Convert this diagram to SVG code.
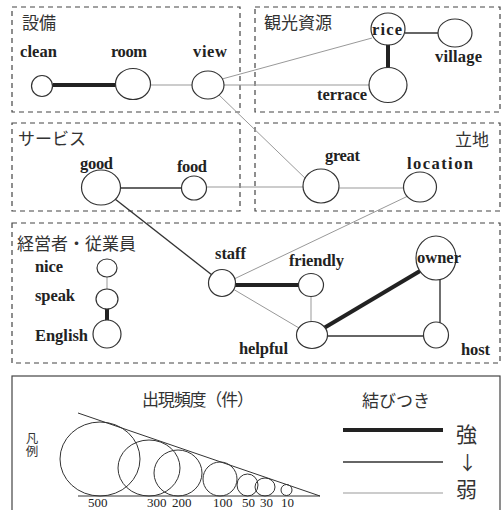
<svg xmlns="http://www.w3.org/2000/svg" width="501" height="510" viewBox="0 0 501 510">
  <style>
    .box { fill: none; stroke: #444; stroke-width: 1.2; stroke-dasharray: 5 4; }
    .frame { fill: none; stroke: #444; stroke-width: 1.2; }
    .node { fill: #fff; stroke: #333; stroke-width: 1.2; }
    .lbl { font-family: "Liberation Serif", serif; font-weight: bold; font-size: 16.5px; fill: #222; }
    .num { font-family: "Liberation Serif", serif; font-size: 13px; fill: #222; }
    .jp { font-family: "Noto Sans CJK JP", sans-serif; font-size: 17px; fill: #333; }
    .jp-v { font-family: "Noto Sans CJK JP", sans-serif; font-size: 12.5px; fill: #333; writing-mode: vertical-rl; }
    .jp-l { font-family: "Noto Sans CJK JP", sans-serif; font-size: 21px; fill: #333; }
    .strong { stroke: #222; stroke-width: 4; }
    .mid { stroke: #333; stroke-width: 1.4; }
    .weak { stroke: #999; stroke-width: 1; }
    .leg { fill: none; stroke: #333; stroke-width: 1; }
  </style>

  <!-- category frames -->
  <g id="categories">
    <rect class="box" x="12" y="7" width="228" height="105"/>
    <rect class="box" x="255" y="7" width="245" height="105"/>
    <rect class="box" x="12" y="123" width="228" height="88"/>
    <rect class="box" x="255" y="123" width="245" height="88"/>
    <rect class="box" x="12" y="223" width="488" height="140"/>
    <text class="jp" x="22" y="29">設備</text>
    <text class="jp" x="264" y="29">観光資源</text>
    <text class="jp" x="18" y="145">サービス</text>
    <text class="jp" x="455" y="146">立地</text>
    <text class="jp" x="17" y="250">経営者・従業員</text>
  </g>

  <!-- connectors -->
  <g id="connectors">
    <line class="strong" x1="53" y1="85" x2="116" y2="85" stroke-width="3.5"/>
    <line class="weak" x1="151" y1="85" x2="192" y2="85"/>
    <line class="weak" x1="222" y1="79" x2="372" y2="38"/>
    <line class="weak" x1="224" y1="85" x2="369" y2="85"/>
    <line class="weak" x1="218" y1="94" x2="307" y2="180"/>
    <line class="strong" x1="388" y1="44" x2="388" y2="68"/>
    <line class="mid" x1="405" y1="33" x2="438" y2="33"/>
    <line class="mid" x1="120" y1="188" x2="182" y2="188"/>
    <line class="weak" x1="206" y1="187" x2="304" y2="187"/>
    <line class="mid" x1="115" y1="199" x2="212" y2="275"/>
    <line class="weak" x1="338" y1="188" x2="405" y2="188"/>
    <line class="weak" x1="408" y1="196" x2="234" y2="279"/>
    <line class="weak" x1="107" y1="277" x2="107" y2="290"/>
    <line class="strong" x1="107" y1="308" x2="107" y2="321"/>
    <line class="strong" x1="235" y1="285" x2="300" y2="285"/>
    <line class="weak" x1="233" y1="289" x2="299" y2="328"/>
    <line class="weak" x1="311" y1="296" x2="311" y2="322"/>
    <line class="strong" x1="324" y1="328" x2="420" y2="271" stroke-width="3.5"/>
    <line class="mid" x1="326" y1="336" x2="425" y2="336"/>
    <line class="mid" x1="440" y1="279" x2="440" y2="323"/>
  </g>

  <g id="clean">
    <ellipse class="node" cx="42" cy="86" rx="10.5" ry="10.5"/>
    <text class="lbl" x="20" y="57" textLength="37">clean</text>
  </g>
  <g id="room">
    <ellipse class="node" cx="133" cy="84" rx="17.5" ry="15.5"/>
    <text class="lbl" x="111" y="57" textLength="36">room</text>
  </g>
  <g id="view">
    <ellipse class="node" cx="208" cy="85" rx="16" ry="14"/>
    <text class="lbl" x="193" y="57" textLength="34">view</text>
  </g>
  <g id="rice">
    <ellipse class="node" cx="388" cy="29" rx="17" ry="16"/>
    <text class="lbl" x="372" y="35" textLength="30">rice</text>
  </g>
  <g id="village">
    <ellipse class="node" cx="455" cy="33" rx="17" ry="14"/>
    <text class="lbl" x="435" y="62" textLength="47">village</text>
  </g>
  <g id="terrace">
    <ellipse class="node" cx="388" cy="85" rx="19" ry="17.5"/>
    <text class="lbl" x="317" y="100" textLength="50">terrace</text>
  </g>
  <g id="good">
    <ellipse class="node" cx="101" cy="187.5" rx="19.5" ry="17.5"/>
    <text class="lbl" x="80" y="169" textLength="33">good</text>
  </g>
  <g id="food">
    <ellipse class="node" cx="194" cy="188" rx="12.5" ry="12"/>
    <text class="lbl" x="177" y="172" textLength="30">food</text>
  </g>
  <g id="great">
    <ellipse class="node" cx="321" cy="186" rx="18" ry="17"/>
    <text class="lbl" x="325" y="161" textLength="35">great</text>
  </g>
  <g id="location">
    <ellipse class="node" cx="420" cy="187" rx="16.5" ry="15"/>
    <text class="lbl" x="407" y="169" textLength="66">location</text>
  </g>
  <g id="nice">
    <ellipse class="node" cx="107" cy="268" rx="10" ry="9"/>
    <text class="lbl" x="35" y="272" textLength="28">nice</text>
  </g>
  <g id="speak">
    <ellipse class="node" cx="107" cy="299" rx="11" ry="10"/>
    <text class="lbl" x="35" y="301" textLength="40">speak</text>
  </g>
  <g id="English">
    <ellipse class="node" cx="107" cy="334" rx="14" ry="14"/>
    <text class="lbl" x="35" y="341" textLength="53">English</text>
  </g>
  <g id="staff">
    <ellipse class="node" cx="222" cy="283" rx="13.5" ry="13.5"/>
    <text class="lbl" x="215" y="259" textLength="31">staff</text>
  </g>
  <g id="friendly">
    <ellipse class="node" cx="311" cy="285" rx="12.5" ry="11.5"/>
    <text class="lbl" x="289" y="266" textLength="55">friendly</text>
  </g>
  <g id="helpful">
    <ellipse class="node" cx="312" cy="335" rx="15.5" ry="13.5"/>
    <text class="lbl" x="239" y="354" textLength="49">helpful</text>
  </g>
  <g id="owner">
    <ellipse class="node" cx="436" cy="258" rx="20" ry="22"/>
    <text class="lbl" x="417" y="263" textLength="44">owner</text>
  </g>
  <g id="host">
    <ellipse class="node" cx="436" cy="335" rx="12.5" ry="13"/>
    <text class="lbl" x="461" y="355" textLength="29">host</text>
  </g>

  <!-- legend -->
  <g id="legend">
    <rect class="frame" x="12" y="376" width="488" height="150"/>
    <text class="jp-v" x="32" y="432">凡例</text>
    <text class="jp" x="142" y="406" font-size="16" textLength="112">出現頻度（件）</text>
    <line class="leg" x1="78" y1="413" x2="320" y2="496"/>
    <line class="leg" x1="78" y1="496" x2="320" y2="496"/>
    <ellipse class="leg" cx="100" cy="459" rx="40" ry="37"/>
    <ellipse class="leg" cx="149" cy="468" rx="31" ry="28"/>
    <ellipse class="leg" cx="178" cy="473" rx="24" ry="23"/>
    <ellipse class="leg" cx="220" cy="479" rx="17" ry="17"/>
    <ellipse class="leg" cx="247.5" cy="485" rx="10.5" ry="11"/>
    <ellipse class="leg" cx="265" cy="487" rx="10" ry="9"/>
    <ellipse class="leg" cx="286.5" cy="490" rx="5.5" ry="5.5"/>
    <text class="num" x="88" y="507">500</text>
    <text class="num" x="147" y="507">300</text>
    <text class="num" x="172" y="507">200</text>
    <text class="num" x="213" y="507">100</text>
    <text class="num" x="242" y="507">50</text>
    <text class="num" x="260" y="507">30</text>
    <text class="num" x="281" y="507">10</text>
    <text class="jp" x="362" y="407" textLength="68">結びつき</text>
    <line class="strong" x1="343" y1="430" x2="443" y2="430" stroke-width="5"/>
    <line class="mid" x1="343" y1="462" x2="443" y2="462" stroke-width="3"/>
    <line class="weak" x1="343" y1="493" x2="443" y2="493" stroke-width="1.2"/>
    <text class="jp-l"><tspan x="456" y="442">強</tspan><tspan x="458" y="470" font-size="19">↓</tspan><tspan x="456" y="497">弱</tspan></text>
  </g>
</svg>
